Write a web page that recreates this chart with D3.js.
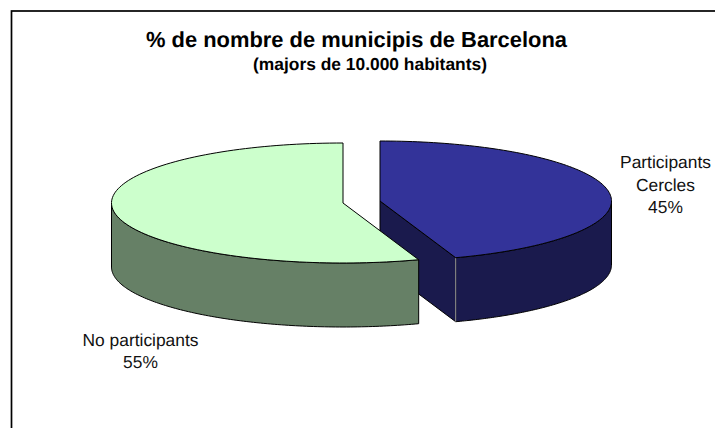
<!DOCTYPE html>
<html><head><meta charset="utf-8">
<script src="https://cdnjs.cloudflare.com/ajax/libs/d3/7.8.5/d3.min.js"></script>
<style>html,body{margin:0;padding:0;background:#fff}svg{display:block}text{font-family:"Liberation Sans",Arial,sans-serif;fill:#000;text-rendering:geometricPrecision}</style>
</head><body>
<script>
const categories = ["Participants Cercles", "No participants"];
const values = [44.7, 55.3];
const labelLines = [["Participants", "Cercles", "45%"], ["No participants", "55%"]];
const topColors = ["#333399", "#CCFFCC"];
const sideColors = ["#1A1A4D", "#668066"];
const centers = [[380, 201], [343, 203]];
const labelPos = [[665.5, 168], [140.5, 345.5]];

const W = 715, H = 428, rx = 231.5, ry = 60, depth = 64;
const svg = d3.select("body").append("svg").attr("width", W).attr("height", H);
svg.append("rect").attr("x", 11.5).attr("y", 11).attr("width", W + 20).attr("height", H + 20)
  .attr("fill", "#fff").attr("stroke", "#000").attr("stroke-width", 1.7);

const arcs = d3.pie().sort(null)(values);
const line = d3.line();
const pt = (c, a, dy = 0) => [c[0] + rx * Math.sin(a), c[1] - ry * Math.cos(a) + dy];
const samples = (a0, a1) => d3.range(0, 121).map(i => a0 + (a1 - a0) * i / 120);

function drawSlice(i) {
  const c = centers[i], a = arcs[i], g = svg.append("g");
  const stroke = "#000", sw = 1;
  const w0 = Math.max(a.startAngle, Math.PI / 2), w1 = Math.min(a.endAngle, 3 * Math.PI / 2);
  const rim = samples(w0, w1);
  const wall = rim.map(t => pt(c, t)).concat(rim.slice().reverse().map(t => pt(c, t, depth)));
  if (a.endAngle < Math.PI) {
    const e = pt(c, a.endAngle);
    g.append("path").attr("d", line([c, e, [e[0], e[1] + depth], [c[0], c[1] + depth]]) + "Z")
      .attr("fill", sideColors[i]).attr("stroke", stroke).attr("stroke-width", sw);
  }
  g.append("path").attr("d", line(wall) + "Z").attr("fill", sideColors[i])
    .attr("stroke", stroke).attr("stroke-width", sw).attr("stroke-linejoin", "round");
  if (a.endAngle < Math.PI) {
    const e = pt(c, a.endAngle);
    g.append("path").attr("d", line([e, [e[0], e[1] + depth]])).attr("stroke", "#999").attr("stroke-width", 1);
  }
  const top = [c].concat(samples(a.startAngle, a.endAngle).map(t => pt(c, t)));
  g.append("path").attr("d", line(top) + "Z").attr("fill", topColors[i])
    .attr("stroke", stroke).attr("stroke-width", sw).attr("stroke-linejoin", "round");
}
drawSlice(0);
drawSlice(1);

svg.append("text").attr("x", 356.5).attr("y", 47).attr("text-anchor", "middle")
  .attr("font-size", 21.9).attr("font-weight", "bold").text("% de nombre de municipis de Barcelona");
svg.append("text").attr("x", 370).attr("y", 70).attr("text-anchor", "middle")
  .attr("font-size", 17.4).attr("font-weight", "bold").text("(majors de 10.000 habitants)");

labelLines.forEach((lines, i) => {
  const t = svg.append("text").attr("text-anchor", "middle").attr("font-size", 17.4).style("fill", "#111");
  lines.forEach((s, j) => t.append("tspan").attr("x", labelPos[i][0]).attr("y", labelPos[i][1] + j * 22.5).text(s));
});
</script>
</body></html>
